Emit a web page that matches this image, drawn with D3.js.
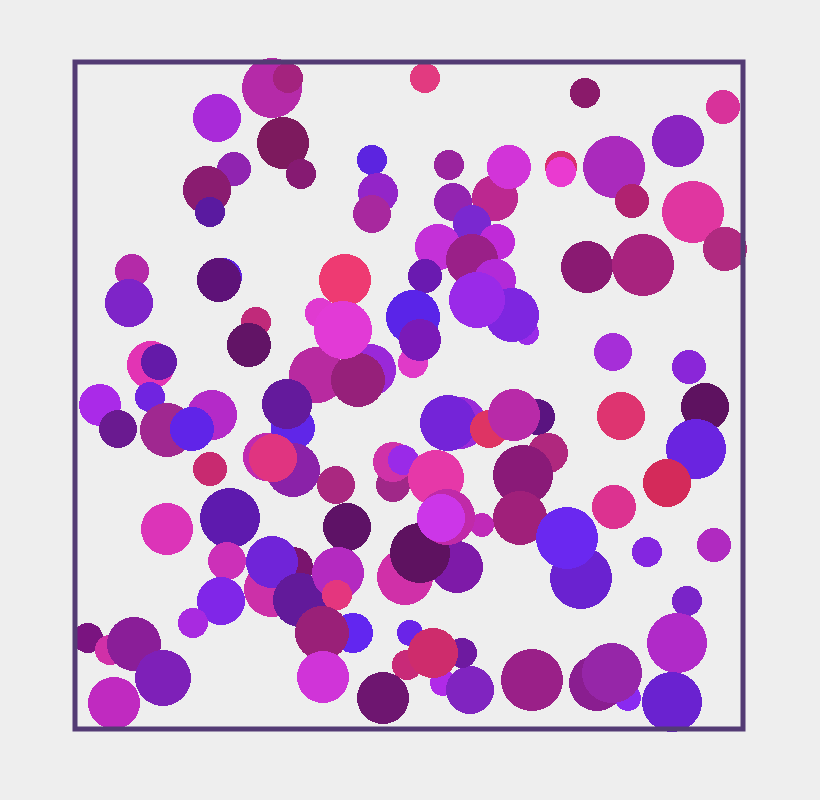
<!DOCTYPE html>
<html>
<head>
<script src="https://cdn.jsdelivr.net/npm/d3@7"></script>
<style>
  body { margin: 0; background: #eeeeee; }
</style>
</head>
<body>
<div id="chart"></div>
<script>
// bubble values, in data units (x right, y up), drawn back to front
const xs = [197,213,142,208,226,159,132,135,297,303,297,57,54,148,144,270,181,174,
  350,510,648,603,542,539,557,618,650,486,486,374,378,420,434,397,422,363,397,350,420,452,437,402,512,568,538,614,
  338,338,345,295,242,283,245,268,76,84,25,75,43,92,137,117,218,212,135,192,218,198,261,318,318,328,
  385,373,414,462,439,473,332,361,448,445,330,382,345,407,372,366,546,630,621,592,539,506,492,572,639,612,602,
  522,553,537,597,457,368,395,335,332,387,358,308,
  155,92,272,218,152,197,197,225,263,262,146,118,278,247,248,13,35,59,88,39];
const ys = [641,651,611,586,555,560,539,517,569,536,515,458,426,452,449,449,407,384,
  651,636,622,588,581,562,528,517,480,562,557,564,527,531,562,505,487,482,469,453,449,396,414,429,462,464,377,362,
  366,412,389,359,354,349,416,399,364,367,324,332,300,299,314,300,301,325,260,272,259,271,244,244,267,269,
  306,306,300,312,314,276,269,251,254,211,152,162,176,204,212,211,313,322,280,246,222,151,191,177,184,128,86,
  46,31,56,27,49,46,39,96,64,76,76,31,
  211,200,202,162,168,140,167,129,156,134,128,106,96,96,52,91,79,85,51,26];
const sizes = [30,15,24,26,15,17,24,15,15,20,19,17,24,19,22,26,15,22,
  15,15,17,26,12,31,17,31,22,16,15,15,19,23,22,19,18,23,26,17,21,12,27,28,26,31,19,17,
  15,27,21,26,28,27,15,29,24,18,21,15,19,27,25,22,22,25,17,24,27,24,19,17,20,15,
  26,28,19,18,26,20,12,28,30,27,28,26,30,12,28,24,24,24,30,24,22,31,31,15,17,15,30,
  28,13,30,30,31,13,24,13,15,15,25,26,
  30,26,24,20,19,28,26,27,26,15,24,15,20,27,26,15,15,27,28,26];
const fills = ["#b52aa8","#a4237e","#a92ad8","#7d1a5e","#861a72","#9024b0","#8a1c70","#5a1aa0","#5c24e0","#9325c8","#a8289e","#b42aa8","#7e24c8","#6020e0","#5e1278","#ee3a72","#c02a7a","#621466",
  "#e23a80","#8a1a6a","#d8329a","#8a24c0","#6a2ae0","#aa2abc","#b02270","#e036a0","#b02a80","#d83070","#ea3ad0","#9a249e","#9324b0","#bc2890","#d234d8","#7a28d0","#c02ad8","#c431d8","#9a2088","#6a1ab0","#b22ad8","#9a2ae8","#7e26e0","#9a2ae8","#8a1a72","#a8237e","#a62ed8","#8a26d8",
  "#e03ac8","#5a24e8","#7a1ab8","#9a28d8","#b82aa0","#96207a","#e03ad0","#e23ad6","#e234b4","#641aa8","#aa2ae8","#7024e0","#6a1a90","#a02890","#b42ac8","#6024e8","#6026e8","#641a9c","#c82a70","#c02ab0","#8a22a8","#e03480","#aa2880","#a02888","#d032a8","#9a2ae8",
  "#9a2ad8","#7424d8","#de3464","#5a1480","#b82aa8","#b0287e","#9a2ae8","#e638a8","#8a1a78","#a0207a","#d030a8","#7e1aa8","#5e1260","#c02ab8","#c02aa8","#cc36e8","#de3470","#5e1260","#6a24e0","#d42a5a","#dc3290","#6a22d0","#6a28f0","#8426e0","#b02ac0","#7a24c8","#b02ac8",
  "#8a1e90","#8a2af0","#9626a8","#6a22d0","#9a2088","#b02ae8","#8024c0","#6a24e8","#c82a78","#6e1aa0","#ce2c6c","#6e1670",
  "#5e1aae","#dc34b8","#5e1266","#7a146e","#cc30b8","#cc30a8","#7024d8","#621a9a","#b42ac0","#e4367e","#8026e8","#a82ae0","#6226f0","#9a2078","#d034d8","#7a1480","#d030a8","#8a1e98","#7e20b8","#c02ac0"];

const data = xs.map((x, i) => ({ x: x, y: ys[i], r: sizes[i], fill: fills[i] }));

const W = 820, H = 800;
const box = { left: 75, top: 62, right: 743, bottom: 729 };

const svg = d3.select("#chart")
  .append("svg")
  .attr("width", W)
  .attr("height", H)
  .style("display", "block");

const x = d3.scaleLinear().domain([0, 668]).range([box.left, box.right]);
const y = d3.scaleLinear().domain([0, 667]).range([box.bottom, box.top]);
const r = d3.scaleLinear().domain([0, 668]).range([0, box.right - box.left]);

svg.append("rect")
  .attr("width", W)
  .attr("height", H)
  .attr("fill", "#eeeeee");

// bubbles
svg.append("g")
  .selectAll("circle")
  .data(data)
  .enter()
  .append("circle")
  .attr("cx", d => x(d.x))
  .attr("cy", d => y(d.y))
  .attr("r", d => r(d.r))
  .attr("fill", d => d.fill)
  .attr("shape-rendering", "crispEdges");

// frame on top
svg.append("rect")
  .attr("x", box.left)
  .attr("y", box.top)
  .attr("width", box.right - box.left)
  .attr("height", box.bottom - box.top)
  .attr("fill", "none")
  .attr("stroke", "#533b74")
  .attr("stroke-width", 5);
</script>
</body>
</html>
